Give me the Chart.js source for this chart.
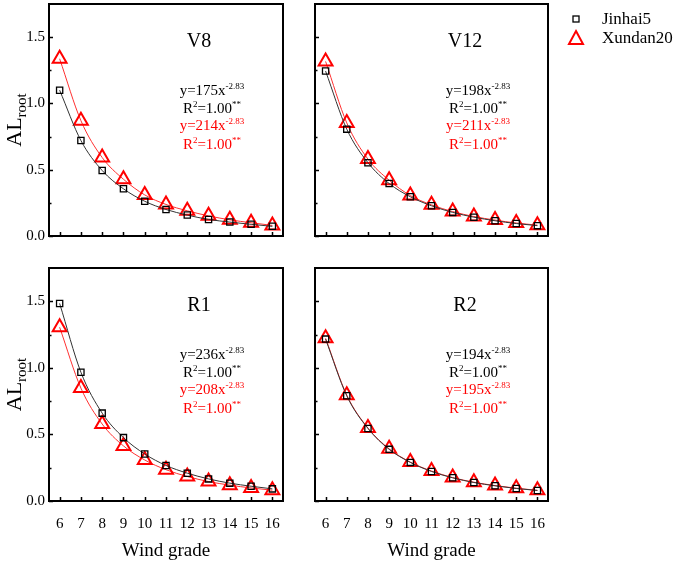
<!DOCTYPE html>
<html>
<head>
<meta charset="utf-8">
<script src="https://cdn.jsdelivr.net/npm/chart.js@4.4.1/dist/chart.umd.min.js"></script>
<style>
    html, body { margin: 0; padding: 0; background: #fff; }
    #wrap { position: relative; width: 685px; height: 564px; overflow: hidden; }
    canvas { position: absolute; }
</style>
</head>
<body>
<div id="wrap">
    <canvas id="pV8"></canvas>
    <canvas id="pV12"></canvas>
    <canvas id="pR1"></canvas>
    <canvas id="pR2"></canvas>
</div>
<script>
// Valeurs
const grades = [6, 7, 8, 9, 10, 11, 12, 13, 14, 15, 16];
const yMajorTicks = [0, 0.5, 1.0, 1.5];
const yMinorTicks = [0.25, 0.75, 1.25];
const seriesNames = ['Jinhai5', 'Xundan20'];

const jinhaiV8 = [1.10, 0.72, 0.494, 0.356, 0.262, 0.200, 0.158, 0.125, 0.105, 0.088, 0.073];
const xundanV8 = [1.337, 0.87, 0.592, 0.428, 0.31, 0.238, 0.19, 0.152, 0.122, 0.10, 0.08];
const jinhaiV12 = [1.244, 0.806, 0.553, 0.396, 0.296, 0.228, 0.178, 0.142, 0.115, 0.094, 0.078];
const xundanV12 = [1.317, 0.853, 0.58, 0.421, 0.305, 0.235, 0.184, 0.147, 0.12, 0.098, 0.082];
const jinhaiR1 = [1.484, 0.967, 0.66, 0.476, 0.353, 0.267, 0.209, 0.166, 0.134, 0.111, 0.091];
const xundanR1 = [1.305, 0.848, 0.578, 0.414, 0.308, 0.235, 0.184, 0.146, 0.119, 0.098, 0.081];
const jinhaiR2 = [1.216, 0.79, 0.545, 0.388, 0.29, 0.222, 0.174, 0.139, 0.114, 0.094, 0.079];
const xundanR2 = [1.222, 0.795, 0.548, 0.392, 0.292, 0.225, 0.176, 0.141, 0.116, 0.096, 0.080];

const SERIF = '"Liberation Serif", "Times New Roman", serif';
Chart.defaults.font.family = SERIF;
Chart.defaults.color = '#000';

// texte avec exposants / indices, centré sur cx
function richText(ctx, parts, cx, cy, size, color, subRatio) {
    const small = Math.round(size * (subRatio || 0.62));
    let total = 0;
    parts.forEach(p => {
        ctx.font = (p[1] ? small : size) + 'px ' + SERIF;
        p.w = ctx.measureText(p[0]).width;
        total += p.w;
    });
    let x = cx - total / 2;
    ctx.fillStyle = color;
    ctx.textAlign = 'left';
    ctx.textBaseline = 'alphabetic';
    const base = cy + size * 0.33;
    parts.forEach(p => {
        ctx.font = (p[1] ? small : size) + 'px ' + SERIF;
        let y = base;
        if (p[1] === 'sup') y = base - size * 0.42;
        if (p[1] === 'sub') y = base + size * 0.22;
        ctx.fillText(p[0], x, y);
        x += p.w;
    });
}

const panelDecor = {
    id: 'panelDecor',
    afterDraw(chart, args, opts) {
        const { ctx, chartArea: a, scales: { x, y } } = chart;
        ctx.save();
        ctx.strokeStyle = '#000';

        // graduations vers l'intérieur
        ctx.lineWidth = 1.5;
        ctx.beginPath();
        grades.forEach(v => {
            const px = Math.round(x.getPixelForValue(v)) + 0.5;
            ctx.moveTo(px, a.bottom);
            ctx.lineTo(px, a.bottom - 4);
        });
        yMajorTicks.forEach(v => {
            const py = Math.round(y.getPixelForValue(v)) + 0.5;
            ctx.moveTo(a.left, py);
            ctx.lineTo(a.left + 4, py);
        });
        yMinorTicks.forEach(v => {
            const py = Math.round(y.getPixelForValue(v)) + 0.5;
            ctx.moveTo(a.left, py);
            ctx.lineTo(a.left + 2.5, py);
        });
        ctx.stroke();

        // cadre
        ctx.lineWidth = 2;
        ctx.strokeRect(a.left, a.top, a.right - a.left, a.bottom - a.top);

        // nom du stade
        ctx.font = '20px ' + SERIF;
        ctx.fillStyle = '#000';
        ctx.textAlign = 'center';
        ctx.textBaseline = 'middle';
        ctx.fillText(opts.title, a.left + 150, a.top + 38);

        // équations
        const ex = a.left + 163;
        richText(ctx, [['y=' + opts.eq[0] + 'x'], ['-2.83', 'sup']], ex, a.top + 86, 15, '#000');
        richText(ctx, [['R'], ['2', 'sup'], ['=1.00'], ['**', 'sup']], ex, a.top + 104, 15, '#000');
        richText(ctx, [['y=' + opts.eq[1] + 'x'], ['-2.83', 'sup']], ex, a.top + 121, 15, '#ff0000');
        richText(ctx, [['R'], ['2', 'sup'], ['=1.00'], ['**', 'sup']], ex, a.top + 140, 15, '#ff0000');

        // titre de l'axe y
        if (opts.yTitle) {
            ctx.translate(14, (a.top + a.bottom) / 2);
            ctx.rotate(-Math.PI / 2);
            richText(ctx, [['AL'], ['root', 'sub']], 0, 0, 22, '#000', 0.68);
            ctx.setTransform(1, 0, 0, 1, 0, 0);
        }

        // légende
        if (opts.legend) {
            const lx = 276;
            ctx.lineWidth = 1.3;
            ctx.strokeStyle = '#000';
            ctx.strokeRect(lx - 3, 16, 6, 6);
            ctx.lineWidth = 2;
            ctx.strokeStyle = '#ff0000';
            ctx.beginPath();
            ctx.moveTo(lx, 31);
            ctx.lineTo(lx + 7, 44);
            ctx.lineTo(lx - 7, 44);
            ctx.closePath();
            ctx.stroke();
            ctx.font = '17px ' + SERIF;
            ctx.fillStyle = '#000';
            ctx.textAlign = 'left';
            ctx.textBaseline = 'middle';
            ctx.fillText(seriesNames[0], 302, 20);
            ctx.fillText(seriesNames[1], 302, 39);
        }
        ctx.restore();
    }
};

function makePanel(id, cfg) {
    const cv = document.getElementById(id);
    const box = cfg.box, area = cfg.area;
    cv.width = box.w;
    cv.height = box.h;
    cv.style.left = box.x + 'px';
    cv.style.top = box.y + 'px';

    const toPoints = vals => grades.map((g, i) => ({ x: g, y: vals[i] }));

    new Chart(cv, {
        type: 'line',
        data: {
            datasets: [
                {
                    label: seriesNames[0],
                    data: toPoints(cfg.jinhai),
                    borderColor: '#333',
                    borderWidth: 1,
                    pointStyle: 'rect',
                    pointRadius: 4.4,
                    pointBorderColor: '#000',
                    pointBorderWidth: 1.3,
                    pointBackgroundColor: 'rgba(0,0,0,0)',
                    cubicInterpolationMode: 'monotone',
                    clip: false
                },
                {
                    label: seriesNames[1],
                    data: toPoints(cfg.xundan),
                    borderColor: '#ff3030',
                    borderWidth: 1,
                    pointStyle: 'triangle',
                    pointRadius: 8,
                    pointBorderColor: '#ff0000',
                    pointBorderWidth: 2,
                    pointBackgroundColor: 'rgba(0,0,0,0)',
                    cubicInterpolationMode: 'monotone',
                    clip: false
                }
            ]
        },
        options: {
            responsive: false,
            animation: false,
            devicePixelRatio: 1,
            layout: {
                autoPadding: false,
                padding: { left: 0, top: area.top, right: box.w - area.right, bottom: 0 }
            },
            plugins: {
                legend: { display: false },
                tooltip: { enabled: false },
                panelDecor: { title: cfg.title, eq: cfg.eq, yTitle: cfg.showY, legend: cfg.legend }
            },
            scales: {
                x: {
                    type: 'linear',
                    min: 5.5,
                    max: 16.5,
                    afterBuildTicks: s => { s.ticks = grades.map(v => ({ value: v })); },
                    afterFit: s => {
                        s.height = box.h - area.bottom;
                        s.paddingLeft = 0;
                        s.paddingRight = 0;
                    },
                    grid: { display: false, drawTicks: false },
                    border: { display: false },
                    ticks: { display: cfg.showX, padding: 14, autoSkip: false, maxRotation: 0, font: { size: 15 } },
                    title: { display: cfg.showX, text: 'Wind grade', font: { size: 19 }, padding: { top: 0, bottom: 2 } }
                },
                y: {
                    type: 'linear',
                    min: 0,
                    max: 1.75,
                    afterBuildTicks: s => { s.ticks = yMajorTicks.map(v => ({ value: v })); },
                    afterFit: s => {
                        s.width = area.left;
                        s.paddingTop = 0;
                        s.paddingBottom = 0;
                    },
                    grid: { display: false, drawTicks: false },
                    border: { display: false },
                    ticks: { display: cfg.showY, padding: 4, font: { size: 15 }, callback: v => v.toFixed(1) }
                }
            }
        },
        plugins: [panelDecor]
    });
}

makePanel('pV8', {
    box: { x: 0, y: 0, w: 300, h: 250 }, area: { left: 49, top: 4, right: 283, bottom: 236 },
    title: 'V8', eq: ['175', '214'], jinhai: jinhaiV8, xundan: xundanV8, showX: false, showY: true
});
makePanel('pV12', {
    box: { x: 300, y: 0, w: 385, h: 250 }, area: { left: 15, top: 4, right: 248, bottom: 236 },
    title: 'V12', eq: ['198', '211'], jinhai: jinhaiV12, xundan: xundanV12, showX: false, showY: false, legend: true
});
makePanel('pR1', {
    box: { x: 0, y: 250, w: 300, h: 314 }, area: { left: 49, top: 18, right: 283, bottom: 251 },
    title: 'R1', eq: ['236', '208'], jinhai: jinhaiR1, xundan: xundanR1, showX: true, showY: true
});
makePanel('pR2', {
    box: { x: 300, y: 250, w: 260, h: 314 }, area: { left: 15, top: 18, right: 248, bottom: 251 },
    title: 'R2', eq: ['194', '195'], jinhai: jinhaiR2, xundan: xundanR2, showX: true, showY: false
});
</script>
</body>
</html>
